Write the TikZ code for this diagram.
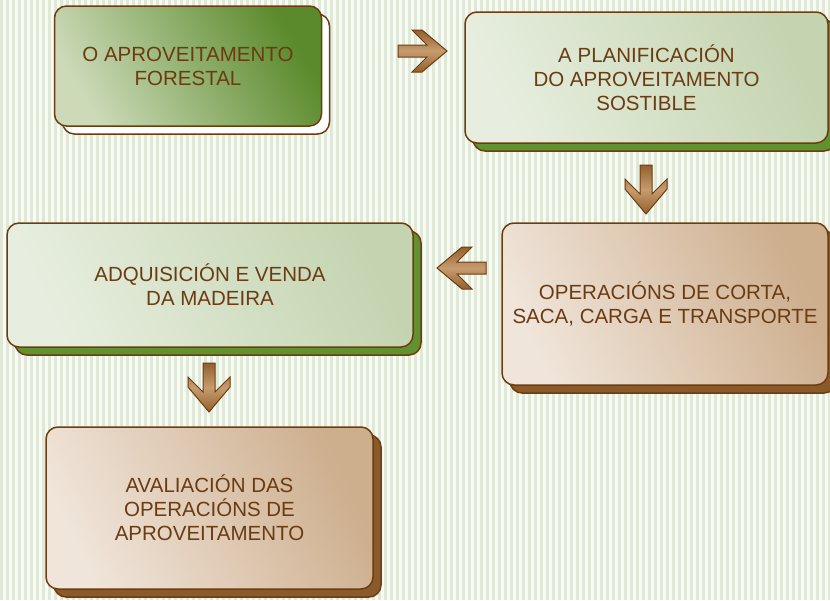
\documentclass[tikz,border=0pt]{standalone}
\usepackage{fontspec}
\setmainfont{Liberation Sans}
\usepackage{tikz}
\usetikzlibrary{shadows}

\definecolor{fondo}{HTML}{F8FAF5}
\definecolor{raia}{HTML}{E0E8D8}
\definecolor{bordo}{HTML}{6E3C0E}
\definecolor{texto}{HTML}{6B3B12}
\definecolor{verdeclaro}{HTML}{CCDAB8}
\definecolor{verdeescuro}{HTML}{5A8A2B}
\definecolor{verdesuave}{HTML}{E7EEDF}
\definecolor{verdemedio}{HTML}{C4D4B0}
\definecolor{tonclaro}{HTML}{F0E5DA}
\definecolor{tonescuro}{HTML}{CDAE8D}
\definecolor{sombraverde}{HTML}{62922F}
\definecolor{sombramarron}{HTML}{8A5A2A}
\definecolor{setaescura}{HTML}{93602E}
\definecolor{setaclara}{HTML}{C69C6E}

\tikzset{
  caixa/.style={draw=bordo, line width=1.5pt, rounded corners=12pt, text=texto,
    align=center, inner sep=0pt, font=\fontsize{20.5}{24}\selectfont},
  sombra/.style={copy shadow={shadow xshift=8pt, shadow yshift=-8pt, draw=bordo,
    line width=1.5pt, fill=#1}},
  seta/.pic={
    \draw[draw=bordo, line width=1pt, top color=setaescura, bottom color=setaescura, middle color=setaclara]
      (0,-6) -- (29,-6) -- (14,-21) -- (24,-21) -- (49,0) -- (24,21) -- (14,21) -- (29,6) -- (0,6) -- cycle;
  }
}

\begin{document}
\begin{tikzpicture}[x=1pt,y=1pt,yscale=-1,xscale=1]
        \useasboundingbox (0,0) rectangle (830,600);
        %Background stripes
        \fill[fondo] (0,0) rectangle (830,600);
        \foreach \x in {0,6,...,828}
          \fill[raia] (\x,0) rectangle ++(3,600);

        %Shape: boxes
        \node[caixa, sombra=white, left color=verdeclaro, right color=verdeescuro, shading angle=120,
          minimum width=267pt, minimum height=120pt] (aprov) at (188,66) {O APROVEITAMENTO\\FORESTAL};
        \node[caixa, sombra=sombraverde, left color=verdesuave, right color=verdemedio, shading angle=115,
          minimum width=363pt, minimum height=131pt] (planif) at (646.5,77.5) {A PLANIFICACIÓN\\DO APROVEITAMENTO\\SOSTIBLE};
        \node[caixa, sombra=sombramarron, left color=tonclaro, right color=tonescuro, shading angle=115,
          minimum width=326pt, minimum height=162pt] (operac) at (665,304) {OPERACIÓNS DE CORTA,\\SACA, CARGA E TRANSPORTE};
        \node[caixa, sombra=sombraverde, left color=verdesuave, right color=verdemedio, shading angle=115,
          minimum width=406pt, minimum height=124pt] (venda) at (210,285) {ADQUISICIÓN E VENDA\\DA MADEIRA};
        \node[caixa, sombra=sombramarron, left color=tonclaro, right color=tonescuro, shading angle=115,
          minimum width=327pt, minimum height=162pt] (avalia) at (209.5,508) {AVALIACIÓN DAS\\OPERACIÓNS DE\\APROVEITAMENTO};

        %Shape: arrows between boxes
        \pic at (398,51) {seta};
        \pic[rotate=-90] at (646,165) {seta};
        \pic[rotate=180] at (486,268) {seta};
        \pic[rotate=-90] at (209,363) {seta};
\end{tikzpicture}
\end{document}
